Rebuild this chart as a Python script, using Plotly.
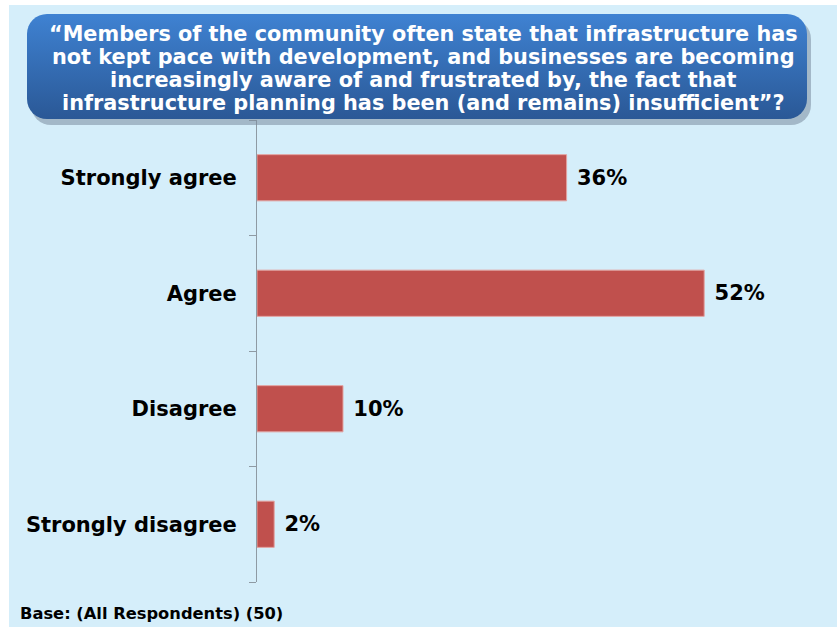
import base64
import plotly.graph_objects as go

categories = ["Strongly agree", "Agree", "Disagree", "Strongly disagree"]
values = [36, 52, 10, 2]
title_lines = [
    "“Members of the community often state that infrastructure has",
    "not kept pace with development, and businesses are becoming",
    "increasingly aware of and frustrated by, the fact that",
    "infrastructure planning has been (and remains) insufficient”?",
]
base_text = "Base: (All Respondents) (50)"

FIG_W, FIG_H = 837, 627
L, R, T, B = 257, 64, 120, 45
W = FIG_W - L - R
H = FIG_H - T - B


def px_x(p):
    return (p - L) / W


def px_y(p):
    return 1 - (p - T) / H


# rounded title box with a vertical gradient, as an inline svg
box_w, box_h = 786, 112
svg = f"""<svg xmlns='http://www.w3.org/2000/svg' width='{box_w}' height='{box_h}'>
<defs><linearGradient id='g' x1='0' y1='0' x2='0' y2='1'>
<stop offset='0' stop-color='#3F82D2'/><stop offset='1' stop-color='#2A5896'/></linearGradient></defs>
<rect x='4' y='5' width='{box_w - 6}' height='{box_h - 6}' rx='20' fill='#7A8C9E' opacity='0.55'/>
<rect x='0' y='0' width='{box_w - 6}' height='{box_h - 7}' rx='20' fill='url(#g)'/>
</svg>"""
svg_src = "data:image/svg+xml;base64," + base64.b64encode(svg.encode()).decode()

fig = go.Figure()
fig.add_trace(
    go.Bar(
        x=values,
        y=categories,
        orientation="h",
        width=0.4,
        marker=dict(color="#C0504D", line=dict(color="#E3A3A1", width=1)),
        text=[f" {v}%" for v in values],
        textposition="outside",
        textfont=dict(family="DejaVu Sans", size=21, color="black", weight="bold"),
        cliponaxis=False,
        hoverinfo="skip",
    )
)

annotations = []
for i, line in enumerate(title_lines):
    annotations.append(
        dict(
            text=line,
            xref="paper", yref="paper",
            x=px_x(423), y=px_y(34 + 23 * i),
            xanchor="center", yanchor="middle",
            showarrow=False,
            font=dict(family="DejaVu Sans", size=20.8, color="white", weight="bold"),
        )
    )
annotations.append(
    dict(
        text=base_text,
        xref="paper", yref="paper",
        x=px_x(18), y=px_y(613),
        xanchor="left", yanchor="middle",
        showarrow=False,
        font=dict(family="DejaVu Sans", size=16.3, color="black", weight="bold"),
    )
)

fig.update_layout(
    width=FIG_W,
    height=FIG_H,
    margin=dict(l=L, r=R, t=T, b=B),
    paper_bgcolor="#D5EEFA",
    plot_bgcolor="#D5EEFA",
    showlegend=False,
    xaxis=dict(range=[0, 60], visible=False, fixedrange=True),
    yaxis=dict(
        categoryorder="array",
        categoryarray=categories[::-1],
        showline=True,
        linecolor="#8E9AA3",
        linewidth=1,
        ticks="outside",
        ticklen=7,
        tickcolor="#8E9AA3",
        tickson="boundaries",
        showgrid=False,
        ticklabelstandoff=15,
        tickfont=dict(family="DejaVu Sans", size=21, color="black", weight="bold"),
        fixedrange=True,
    ),
    images=[
        dict(
            source=svg_src,
            xref="paper", yref="paper",
            x=px_x(27), y=px_y(14),
            sizex=box_w / W, sizey=box_h / H,
            xanchor="left", yanchor="top",
            sizing="stretch",
            layer="above",
        )
    ],
    shapes=[
        dict(type="rect", xref="paper", yref="paper", layer="below",
             x0=px_x(0), x1=px_x(FIG_W), y0=px_y(0), y1=px_y(5),
             fillcolor="white", line=dict(width=0)),
        dict(type="rect", xref="paper", yref="paper", layer="below",
             x0=px_x(0), x1=px_x(9), y0=px_y(0), y1=px_y(FIG_H),
             fillcolor="white", line=dict(width=0)),
    ],
    annotations=annotations,
)

fig.write_html(
    "out.html",
    config={"displayModeBar": False},
    post_script="document.body.style.margin = '0';",
)
